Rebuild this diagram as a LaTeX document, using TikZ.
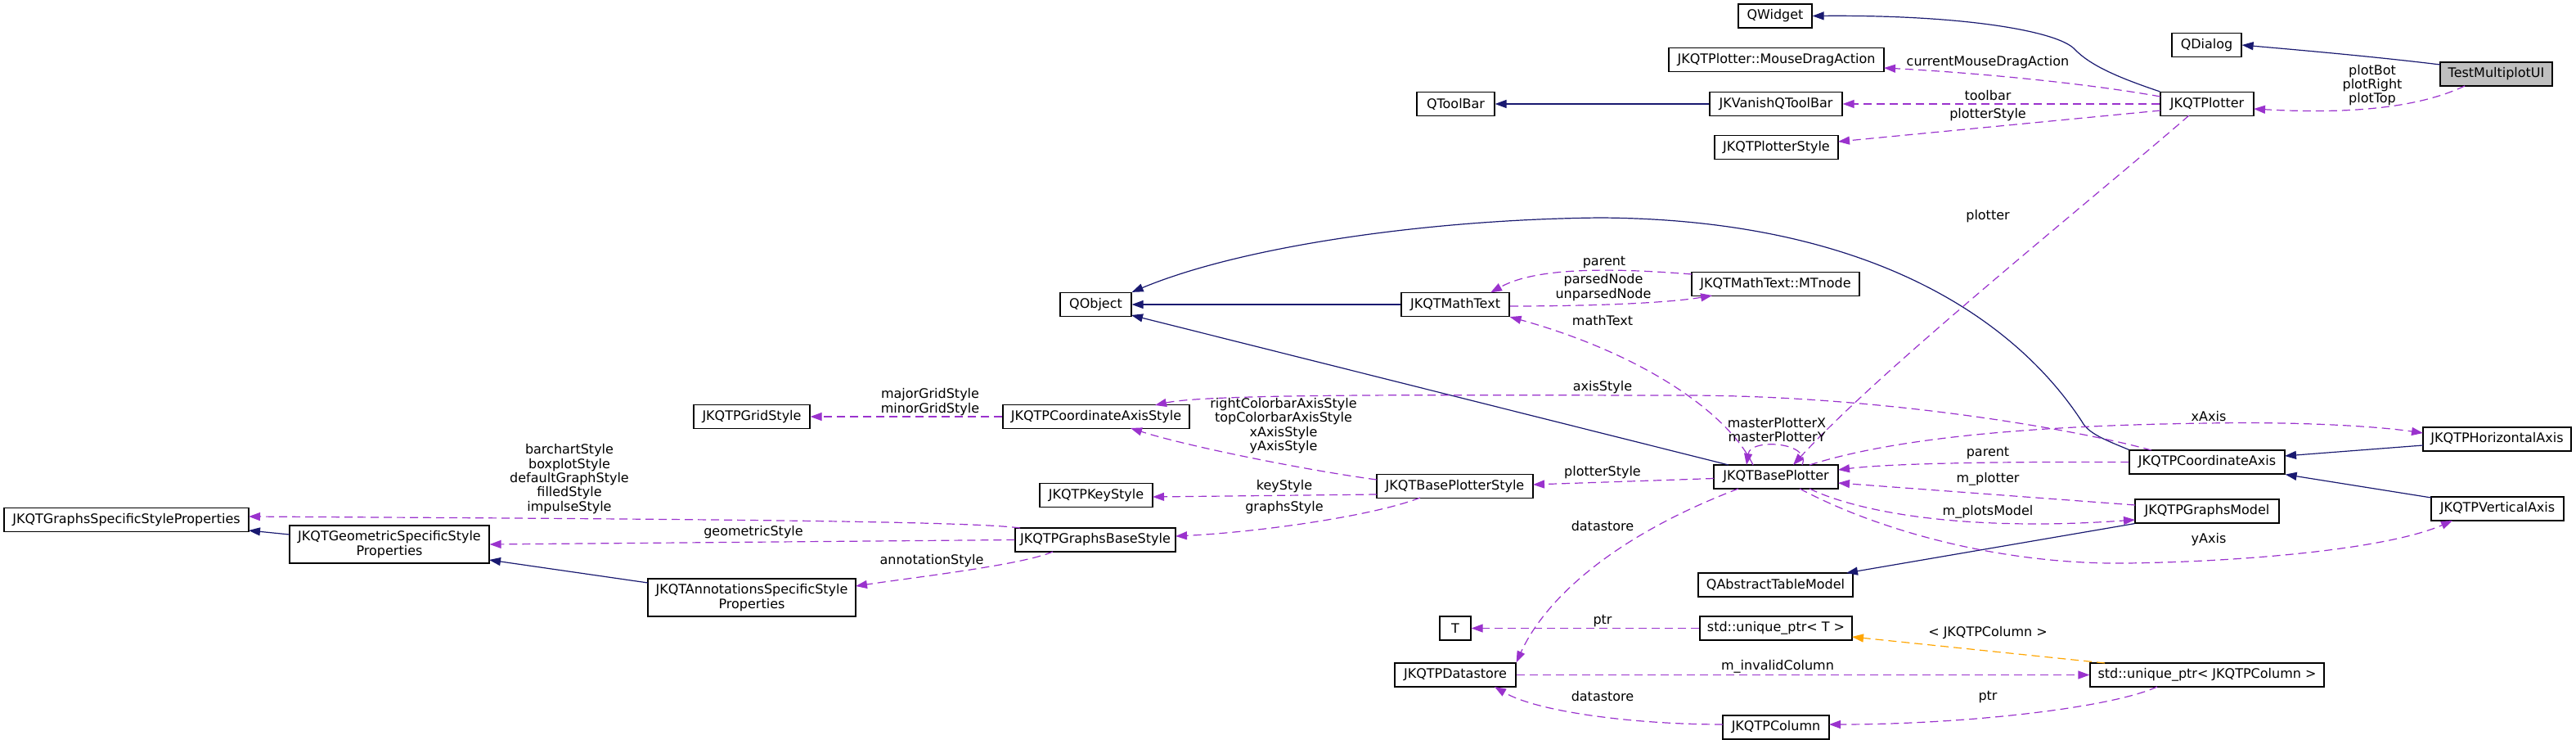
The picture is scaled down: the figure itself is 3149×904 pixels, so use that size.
\documentclass[tikz,border=0pt]{standalone}
\usepackage{fontspec}
\setmainfont{DejaVu Sans}
\usetikzlibrary{arrows.meta}
\definecolor{edgepurple}{HTML}{9A32CD}
\definecolor{edgenavy}{HTML}{191970}
\definecolor{edgeorange}{HTML}{FFA500}
\definecolor{hlgray}{HTML}{BFBFBF}
\begin{document}
\begin{tikzpicture}[x=0.5pt,y=-0.5pt,
  font=\fontsize{8}{8.7}\selectfont,
  box/.style={draw=black, line width=0.6pt, inner sep=0pt, minimum height=14.5pt, align=center, fill=white},
  inh/.style={draw=edgenavy, line width=0.6pt, -{Triangle[length=7pt,width=5pt]}},
  use/.style={draw=edgepurple, line width=0.6pt, dash pattern=on 5pt off 3pt, -{Triangle[length=7pt,width=5pt]}},
  tmpl/.style={draw=edgeorange, line width=0.6pt, dash pattern=on 5pt off 3pt, -{Triangle[length=7pt,width=5pt]}},
  lbl/.style={inner sep=0pt, align=center}]
\useasboundingbox (0,0) rectangle (3149,904);

% nodes
\node[box, fill=hlgray, minimum width=68.5pt] (tm) at (3051.5,90.5) {TestMultiplotUI};
\node[box, minimum width=42.5pt] (qdialog) at (2697.5,55) {QDialog};
\node[box, minimum width=45pt] (qwidget) at (2170,19.5) {QWidget};
\node[box, minimum width=131.5pt] (mda) at (2171.5,73) {JKQTPlotter::MouseDragAction};
\node[box, minimum width=47.5pt] (qtoolbar) at (1779.5,127) {QToolBar};
\node[box, minimum width=81pt] (vanish) at (2171,127) {JKVanishQToolBar};
\node[box, minimum width=57pt] (plotter) at (2698,127) {JKQTPlotter};
\node[box, minimum width=75.5pt] (plstyle) at (2171.5,180) {JKQTPlotterStyle};
\node[box, minimum width=43.5pt] (qobject) at (1339.5,372) {QObject};
\node[box, minimum width=66pt] (mathtext) at (1779,372) {JKQTMathText};
\node[box, minimum width=102.5pt] (mtnode) at (2170.5,347) {JKQTMathText::MTnode};
\node[box, minimum width=114pt] (caxstyle) at (1340,509) {JKQTPCoordinateAxisStyle};
\node[box, minimum width=71pt] (gridstyle) at (919,509) {JKQTPGridStyle};
\node[box, minimum width=95.5pt] (bpstyle) at (1778.5,594) {JKQTBasePlotterStyle};
\node[box, minimum width=69pt] (keystyle) at (1340,605) {JKQTPKeyStyle};
\node[box, minimum width=98pt] (gbstyle) at (1339,659.5) {JKQTPGraphsBaseStyle};
\node[box, minimum width=149.5pt] (gssp) at (154.5,635) {JKQTGraphsSpecificStyleProperties};
\node[box, minimum width=122pt, minimum height=23pt] (geom) at (476,665) {JKQTGeometricSpecificStyle\\Properties};
\node[box, minimum width=127pt, minimum height=23pt] (annot) at (919,730) {JKQTAnnotationsSpecificStyle\\Properties};
\node[box, minimum width=76pt] (bplotter) at (2171,582.5) {JKQTBasePlotter};
\node[box, minimum width=95pt] (cax) at (2698,564.5) {JKQTPCoordinateAxis};
\node[box, minimum width=90.5pt] (hax) at (3052.5,536.5) {JKQTPHorizontalAxis};
\node[box, minimum width=81pt] (vax) at (3053,621.5) {JKQTPVerticalAxis};
\node[box, minimum width=88pt] (gmodel) at (2698,624.5) {JKQTPGraphsModel};
\node[box, minimum width=94.5pt] (qatm) at (2170.5,714.5) {QAbstractTableModel};
\node[box, minimum width=19pt] (tnode) at (1779,767.5) {T};
\node[box, minimum width=93pt] (uptrT) at (2171,767.5) {std::unique\_ptr< T >};
\node[box, minimum width=74pt] (datastore) at (1779,824.5) {JKQTPDatastore};
\node[box, minimum width=143pt] (uptrC) at (2698,824.5) {std::unique\_ptr< JKQTPColumn >};
\node[box, minimum width=65pt] (column) at (2171,888.5) {JKQTPColumn};

% inheritance
\draw[inh] ([shift={(-68.5,-11.5)}]tm.center) .. controls (2901,69) and (2809,61) .. (qdialog.east);
\draw[inh] (plotter.north west) .. controls (2590,95) and (2555,80) .. (2536,60) .. controls (2515,38) and (2400,18) .. (qwidget.east);
\draw[inh] (vanish.west) -- (qtoolbar.east);
\draw[inh] (mathtext.west) -- (qobject.east);
\draw[inh] ([shift={(-58,-14.5)}]bplotter.center) -- ([shift={(43.5,13)}]qobject.center);
\draw[inh] (cax.north west) .. controls (2575,538) and (2553,530) .. (2545,515) .. controls (2470,400) and (2300,268) .. (1956,266) .. controls (1750,268) and (1520,300) .. (qobject.north east);
\draw[inh] ([shift={(-90.5,7.5)}]hax.center) -- ([shift={(95,-7.5)}]cax.center);
\draw[inh] ([shift={(-81,-13.5)}]vax.center) -- (cax.south east);
\draw[inh] (gmodel.south west) -- ([shift={(86.5,-14.5)}]qatm.center);
\draw[inh] ([shift={(-122,-12)}]geom.center) -- ([shift={(149.5,13)}]gssp.center);
\draw[inh] ([shift={(-127,-18)}]annot.center) -- ([shift={(122,19)}]geom.center);

% usage
\draw[use] ([shift={(-38.5,14.5)}]tm.center) .. controls (2960,130) and (2880,140) .. ([shift={(57,6)}]plotter.center);
\node[lbl] at (2900,104) {plotBot\\plotRight\\plotTop};
\draw[use] ([shift={(-57,-9)}]plotter.center) .. controls (2540,100) and (2400,88) .. ([shift={(131.5,10)}]mda.center);
\node[lbl] at (2430,76) {currentMouseDragAction};
\draw[use] (plotter.west) -- (vanish.east);
\node[lbl] at (2430,117) {toolbar};
\draw[use] ([shift={(-57,8)}]plotter.center) -- ([shift={(75.5,-7)}]plstyle.center);
\node[lbl] at (2430,140) {plotterStyle};
\draw[use] ([shift={(-22,14)}]plotter.center) .. controls (2550,250) and (2300,450) .. ([shift={(21,-14.5)}]bplotter.center);
\node[lbl] at (2430,264) {plotter};

\draw[use] ([shift={(-102.5,-12)}]mtnode.center) .. controls (1980,328) and (1880,325) .. ([shift={(43,-14.5)}]mathtext.center);
\node[lbl] at (1961,321) {parent};
\draw[use] ([shift={(67,2)}]mathtext.center) .. controls (1950,374) and (2040,370) .. ([shift={(-77.5,14)}]mtnode.center);
\node[lbl] at (1960,351) {parsedNode\\unparsedNode};
\draw[use] ([shift={(-28,-14.5)}]bplotter.center) .. controls (2110,500) and (2000,430) .. (mathtext.south east);
\node[lbl] at (1959,392) {mathText};

\draw[use] ([shift={(32,-14.5)}]bplotter.center) .. controls (2215,540) and (2140,535) .. ([shift={(-36,-14.5)}]bplotter.center);
\node[lbl] at (2172,525) {masterPlotterX\\masterPlotterY};

\draw[use] ([shift={(-68,-14.5)}]cax.center) .. controls (2540,525) and (2300,483) .. (2059,483) .. controls (1800,483) and (1480,480) .. ([shift={(72,-14)}]caxstyle.center);
\node[lbl] at (1959,473) {axisStyle};

\draw[use] ([shift={(41,-14.5)}]bplotter.center) .. controls (2300,540) and (2450,520) .. (2700,517) .. controls (2800,515) and (2900,520) .. ([shift={(-90.5,-7.5)}]hax.center);
\node[lbl] at (2700,509) {xAxis};

\draw[use] (cax.west) .. controls (2480,564) and (2320,565) .. ([shift={(76,-8.5)}]bplotter.center);
\node[lbl] at (2430,554) {parent};
\draw[use] ([shift={(-88,-7.5)}]gmodel.center) -- ([shift={(76,7.5)}]bplotter.center);
\node[lbl] at (2430,585) {m\_plotter};
\draw[use] ([shift={(41,14.5)}]bplotter.center) .. controls (2270,625) and (2400,650) .. ([shift={(-88,10.5)}]gmodel.center);
\node[lbl] at (2430,625) {m\_plotsModel};
\draw[use] ([shift={(29,14.5)}]bplotter.center) .. controls (2300,650) and (2450,690) .. (2600,688) .. controls (2750,686) and (2920,670) .. ([shift={(-55,14.5)}]vax.center);
\node[lbl] at (2700,659) {yAxis};

\draw[use] ([shift={(-76,2)}]bplotter.center) -- ([shift={(95.5,-2)}]bpstyle.center);
\node[lbl] at (1959,577) {plotterStyle};
\draw[use] ([shift={(-46,14.5)}]bplotter.center) .. controls (1960,660) and (1885,740) .. (datastore.north east);
\node[lbl] at (1959,643) {datastore};

\draw[use] (uptrT.west) -- (tnode.east);
\node[lbl] at (1959,759) {ptr};
\draw[tmpl] ([shift={(-125,-14.5)}]uptrC.center) -- ([shift={(93,10.5)}]uptrT.center);
\node[lbl] at (2430,773) {< JKQTPColumn >};
\draw[use] (datastore.east) -- (uptrC.west);
\node[lbl] at (2173,814) {m\_invalidColumn};
\draw[use] ([shift={(-61,14.5)}]uptrC.center) .. controls (2580,865) and (2400,885) .. ([shift={(65,-3.5)}]column.center);
\node[lbl] at (2430,852) {ptr};
\draw[use] ([shift={(-65,-3.5)}]column.center) .. controls (2000,885) and (1880,870) .. ([shift={(48,14.5)}]datastore.center);
\node[lbl] at (1959,851) {datastore};

\draw[use] (caxstyle.west) -- (gridstyle.east);
\node[lbl] at (1137,491) {majorGridStyle\\minorGridStyle};
\draw[use] ([shift={(-95.5,-8)}]bpstyle.center) .. controls (1600,575) and (1450,545) .. ([shift={(42,14)}]caxstyle.center);
\node[lbl] at (1569,520) {rightColorbarAxisStyle\\topColorbarAxisStyle\\xAxisStyle\\yAxisStyle};
\draw[use] ([shift={(-95.5,10)}]bpstyle.center) -- ([shift={(69,2)}]keystyle.center);
\node[lbl] at (1570,594) {keyStyle};
\draw[use] ([shift={(-42.5,14)}]bpstyle.center) .. controls (1680,630) and (1540,650) .. ([shift={(98,-4.5)}]gbstyle.center);
\node[lbl] at (1570,620) {graphsStyle};
\draw[use] ([shift={(-92,-14.5)}]gbstyle.center) .. controls (1180,636) and (800,634) .. ([shift={(149.5,-4)}]gssp.center);
\node[lbl] at (696,585) {barchartStyle\\boxplotStyle\\defaultGraphStyle\\filledStyle\\impulseStyle};
\draw[use] (gbstyle.west) -- (geom.east);
\node[lbl] at (921,650) {geometricStyle};
\draw[use] ([shift={(-52,14.5)}]gbstyle.center) .. controls (1250,690) and (1120,705) .. ([shift={(127,-14)}]annot.center);
\node[lbl] at (1139,685) {annotationStyle};
\end{tikzpicture}
\end{document}
